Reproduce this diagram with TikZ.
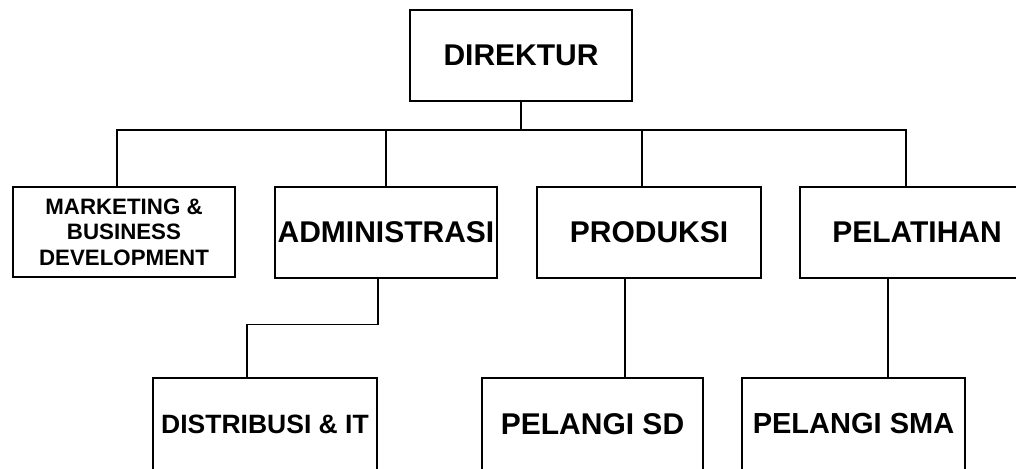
\documentclass[tikz,border=0pt]{standalone}
\usepackage{fontspec}
\setmainfont{Liberation Sans}
\begin{document}
\begin{tikzpicture}[x=1pt,y=-1pt,
  box/.style={draw,line width=1.5pt,rectangle,inner sep=0pt,align=center,font=\bfseries\fontsize{30}{32}\selectfont},
  conn/.style={line width=1.3pt}]
\useasboundingbox (0,0) rectangle (1016,468);
\node[box,minimum width=222pt,minimum height=91pt] (dir) at (521,55.5) {DIREKTUR};
\node[box,minimum width=222pt,minimum height=90pt,font=\bfseries\fontsize{22.3}{25.5}\selectfont] (mkt) at (124,232) {MARKETING \&\\BUSINESS\\DEVELOPMENT};
\node[box,minimum width=222pt,minimum height=91pt] (adm) at (386,232.5) {ADMINISTRASI};
\node[box,minimum width=224pt,minimum height=91pt] (prd) at (649,232.5) {PRODUKSI};
\node[box,minimum width=234pt,minimum height=91pt] (pel) at (917,232.5) {PELATIHAN};
\node[box,minimum width=224pt,minimum height=92pt,font=\bfseries\fontsize{26.5}{30}\selectfont] (dist) at (265,424) {DISTRIBUSI \& IT};
\node[box,minimum width=221pt,minimum height=92pt] (sd) at (592.5,424) {PELANGI SD};
\node[box,minimum width=223pt,minimum height=92pt,font=\bfseries\fontsize{29}{32}\selectfont] (sma) at (853.5,424) {PELANGI SMA};
\coordinate (bl) at (117,130);
\coordinate (br) at (906,130);
\draw[conn] (dir.south) -- (dir.south |- bl);
\draw[conn] (mkt.north -| bl) -- (bl) -- (br) -- (pel.north -| br);
\draw[conn] (adm.north) -- (adm.north |- bl);
\draw[conn] ([xshift=-7pt]prd.north) -- ([xshift=-7pt]prd.north |- bl);
\draw[conn] ([xshift=-8pt]adm.south) -- ++(0,46) -| ([xshift=-18pt]dist.north);
\draw[conn] ([xshift=-24pt]prd.south) -- ([xshift=32.5pt]sd.north);
\draw[conn] ([xshift=-29pt]pel.south) -- ([xshift=34.5pt]sma.north);
\end{tikzpicture}
\end{document}
